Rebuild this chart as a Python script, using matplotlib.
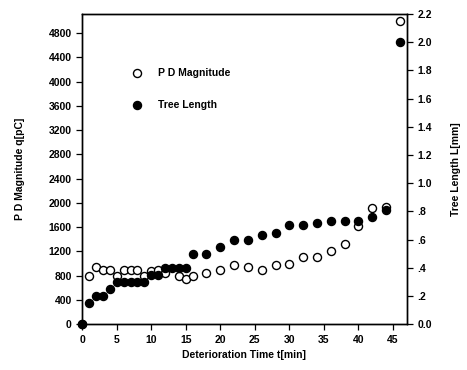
import matplotlib
matplotlib.use("Agg")
import matplotlib.pyplot as plt
from matplotlib.lines import Line2D

plt.rcParams['font.family'] = ['Liberation Sans', 'DejaVu Sans']
plt.rcParams['font.weight'] = 'bold'

# PD magnitude (open circles, left axis)
pd_time = [0, 1, 2, 3, 4, 5, 6, 7, 8, 9, 10, 11, 12, 14, 15, 16, 18, 20, 22,
           24, 26, 28, 30, 32, 34, 36, 38, 40, 42, 44, 46]
pd_mag = [0, 800, 950, 900, 900, 800, 900, 900, 900, 800, 880, 900, 850, 800,
          750, 800, 850, 900, 980, 950, 900, 980, 1000, 1100, 1100, 1200, 1320,
          1620, 1920, 1930, 5000]

# tree length (filled circles, right axis)
tl_time = [0, 1, 2, 3, 4, 5, 6, 7, 8, 9, 10, 11, 12, 13, 14, 15, 16, 18, 20,
           22, 24, 26, 28, 30, 32, 34, 36, 38, 40, 42, 44, 46]
tl_len = [0.0, 0.15, 0.2, 0.2, 0.25, 0.3, 0.3, 0.3, 0.3, 0.3, 0.35, 0.35, 0.4,
          0.4, 0.4, 0.4, 0.5, 0.5, 0.55, 0.6, 0.6, 0.63, 0.65, 0.7, 0.7, 0.72,
          0.73, 0.73, 0.73, 0.76, 0.81, 2.0]

left_ticks = list(range(0, 4801, 400))
x_ticks = list(range(0, 46, 5))
right_ticks = [0.0, 0.2, 0.4, 0.6, 0.8, 1.0, 1.2, 1.4, 1.6, 1.8, 2.0, 2.2]
right_labels = ['0.0', '.2', '.4', '.6', '.8', '1.0', '1.2', '1.4', '1.6',
                '1.8', '2.0', '2.2']

fig = plt.figure(figsize=(4.67, 3.70), dpi=100)
ax = fig.add_axes([0.176, 0.124, 0.695, 0.838])
ax2 = ax.twinx()

ax.plot(pd_time, pd_mag, 'o', ms=5.8, mfc='white', mec='black', mew=1.0,
        clip_on=False, zorder=3)
ax2.plot(tl_time, tl_len, 'o', ms=5.8, mfc='black', mec='black',
         clip_on=False, zorder=3)

ax.set_xlim(0, 47)
ax.set_ylim(0, 5115)
ax2.set_ylim(0, 2.2)

ax.set_xticks(x_ticks)
ax.set_yticks(left_ticks)
ax2.set_yticks(right_ticks)
ax2.set_yticklabels(right_labels)

for a in (ax, ax2):
    a.tick_params(labelsize=7.5, length=4, width=0.9, direction='out')
    for s in a.spines.values():
        s.set_linewidth(1.0)

ax.set_xlabel('Deterioration Time t[min]', fontsize=7.5, fontweight='bold')
ax.set_ylabel('P D Magnitude q[pC]', fontsize=7.5, fontweight='bold',
              labelpad=17)
ax2.set_ylabel('Tree Length L[mm]', fontsize=7.5, fontweight='bold',
               labelpad=14)

handles = [
    Line2D([], [], ls='none', marker='o', ms=5.8, mfc='white', mec='black'),
    Line2D([], [], ls='none', marker='o', ms=5.8, mfc='black', mec='black'),
]
ax2.legend(handles, ['P D Magnitude', 'Tree Length'], loc='upper left',
           bbox_to_anchor=(0.108, 0.855), frameon=False, fontsize=7.5,
           labelspacing=2.1, handletextpad=1.0)

fig.savefig('out.png', dpi=100)
